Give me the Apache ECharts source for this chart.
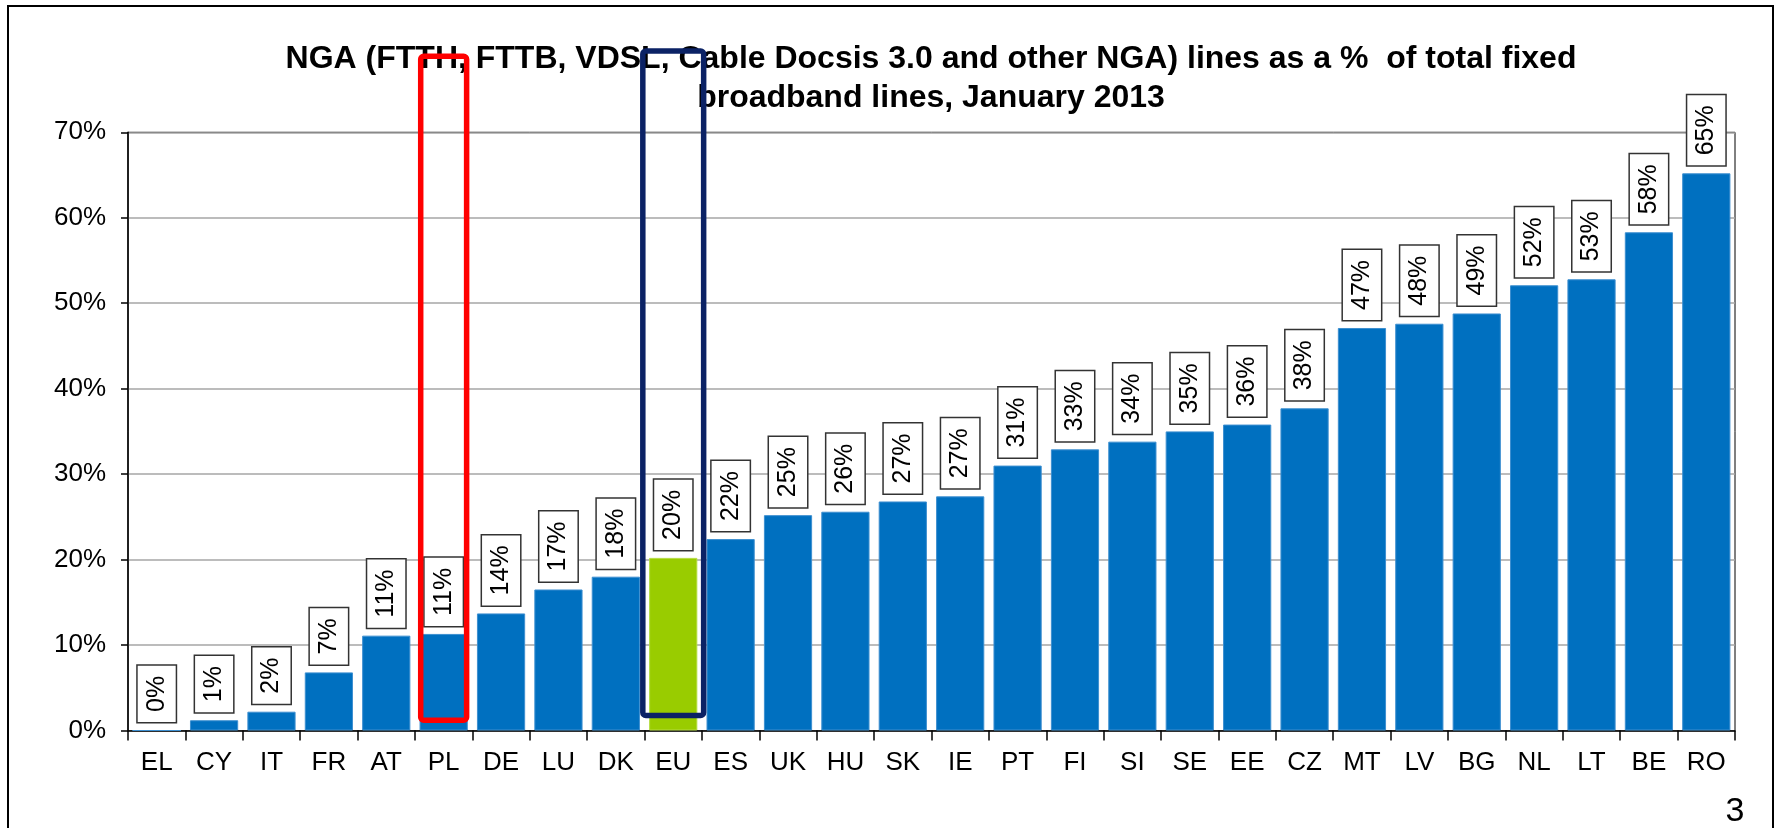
<!DOCTYPE html>
<html>
<head>
<meta charset="utf-8">
<script src="https://cdn.jsdelivr.net/npm/echarts@6/dist/echarts.min.js"></script>
<style>
html,body{margin:0;padding:0;background:#fff;}
#chart{width:1777px;height:828px;}
</style>
</head>
<body>
<div id="chart"></div>
<script>
// ---- data ----
const categories = ['EL','CY','IT','FR','AT','PL','DE','LU','DK','EU','ES','UK','HU','SK','IE','PT','FI','SI','SE','EE','CZ','MT','LV','BG','NL','LT','BE','RO'];
const values = [0.0,1.2,2.2,6.8,11.1,11.3,13.7,16.5,18.0,20.2,22.4,25.2,25.6,26.8,27.4,31.0,32.9,33.8,35.0,35.8,37.7,47.1,47.6,48.8,52.1,52.8,58.3,65.2];
const highlightCategory = 'EU';
const yTicks = [0,10,20,30,40,50,60,70];
const titleText = 'NGA (FTTH, FTTB, VDSL, Cable Docsis 3.0 and other NGA) lines as a %  of total fixed\nbroadband lines, January 2013';
const pageNumber = '3';

// annotation boxes: category, top value, bottom value
const annotations = [
  {cat:'PL', top:78.9, bottom:1.2, color:'#FF0000', halfWidth:0.40},
  {cat:'EU', top:79.5, bottom:1.75, color:'#0B2265', halfWidth:0.53}
];

const FONT = '"Liberation Sans", Arial, sans-serif';
const chart = echarts.init(document.getElementById('chart'), null, {renderer:'canvas'});

const seriesData = values.map((v,i) => ({
  value: v,
  itemStyle: categories[i] === highlightCategory ? {color:'#99CC00', borderColor:'#b5dc40'} : undefined
}));

chart.setOption({
  animation:false,
  backgroundColor:'#fff',
  title:{
    text:titleText,
    left:931, top:40, textAlign:'center', padding:0,
    textStyle:{fontFamily:FONT, fontSize:32, fontWeight:'bold', color:'#000', lineHeight:39}
  },
  grid:{left:128, right:42, top:132.3, bottom:97.5, show:true, borderColor:'#000', borderWidth:1, backgroundColor:'transparent'},
  xAxis:{
    type:'category', data:categories,
    axisLine:{lineStyle:{color:'#000', width:1.5}},
    axisTick:{show:true, length:10, lineStyle:{color:'#000', width:1.5}},
    axisLabel:{fontFamily:FONT, fontSize:26, color:'#000', margin:19, interval:0}
  },
  yAxis:{
    type:'value', min:0, max:70, interval:10,
    axisLine:{show:true, lineStyle:{color:'#000', width:1.5}},
    axisTick:{show:true, length:7, lineStyle:{color:'#000', width:1.5}},
    splitLine:{lineStyle:{color:'#A6A6A6', width:1.5}},
    axisLabel:{fontFamily:FONT, fontSize:26, color:'#000', margin:22,
      formatter:v => yTicks.includes(v) ? v + '%' : ''}
  },
  series:[{
    type:'bar', data:seriesData, barCategoryGap:'16%',
    itemStyle:{color:'#0070C0', borderColor:'#3d8fd0', borderWidth:1},
    label:{
      show:true, position:'top', distance:8, rotate:90,
      align:'left', verticalAlign:'middle',
      formatter:p => Math.round(p.value) + '%',
      fontFamily:FONT, fontSize:25, color:'#000', lineHeight:26,
      backgroundColor:'#fff', borderColor:'#333', borderWidth:1.5,
      padding:[6,10,6,10]
    }
  }]
});

// annotation rectangles & frame
const graphics = [];
annotations.forEach(a => {
  const idx = categories.indexOf(a.cat);
  const cx = chart.convertToPixel({xAxisIndex:0}, a.cat);
  const cw = chart.convertToPixel({xAxisIndex:0}, categories[idx+1]) - cx;
  const yTop = chart.convertToPixel({yAxisIndex:0}, a.top);
  const yBot = chart.convertToPixel({yAxisIndex:0}, a.bottom);
  graphics.push({
    type:'rect', z:100,
    shape:{x:cx - cw*a.halfWidth, y:yTop, width:2*cw*a.halfWidth, height:yBot - yTop, r:3},
    style:{fill:null, stroke:a.color, lineWidth:5.5}
  });
});
graphics.push({
  type:'rect', z:100,
  shape:{x:8, y:6, width:1765, height:840},
  style:{fill:null, stroke:'#000', lineWidth:2}
});
graphics.push({
  type:'text', z:100, x:1735, y:812,
  style:{text:pageNumber, fontFamily:FONT, fontSize:34, fill:'#000', align:'center', verticalAlign:'middle'}
});
chart.setOption({graphic:graphics});
</script>
</body>
</html>
